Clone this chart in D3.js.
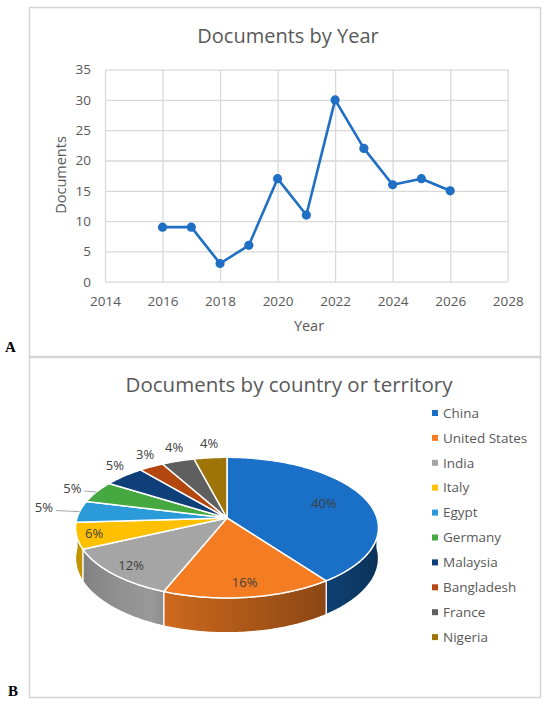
<!DOCTYPE html>
<html lang="en">
<head>
<meta charset="UTF-8">
<title>Documents</title>
<style>
  body { margin: 0; background: #fff; }
  svg { display: block; font-family: "Open Sans", sans-serif; }
</style>
</head>
<body>
<div id="chart"></div>
<script src="https://d3js.org/d3.v7.min.js"></script>
<script>
// data
var years = [2016, 2017, 2018, 2019, 2020, 2021, 2022, 2023, 2024, 2025, 2026];
var docs = [9, 9, 3, 6, 17, 11, 30, 22, 16, 17, 15];
var xTicks = [2014, 2016, 2018, 2020, 2022, 2024, 2026, 2028];
var yTicks = [0, 5, 10, 15, 20, 25, 30, 35];
var countries = ["China", "United States", "India", "Italy", "Egypt", "Germany", "Malaysia", "Bangladesh", "France", "Nigeria"];
var shares = [40, 16, 12, 6, 5, 5, 5, 3, 4, 4];

var colors = ["#1a6fc6", "#f47d23", "#a5a5a5", "#ffc000", "#2b9ad8", "#46a840", "#0f3f78", "#b4470f", "#5f5f5f", "#9e7408"];
var textColor = "#595959";
var gridColor = "#d9d9d9";

var svg = d3.select("#chart").append("svg")
  .attr("width", 550)
  .attr("height", 706);

// panel frames
svg.append("rect").attr("x", 29.5).attr("y", 7.5).attr("width", 511).attr("height", 349)
  .attr("fill", "none").attr("stroke", "#d4d4d4").attr("stroke-width", 1.5);
svg.append("rect").attr("x", 29.5).attr("y", 357.5).attr("width", 511).attr("height", 340)
  .attr("fill", "none").attr("stroke", "#d4d4d4").attr("stroke-width", 1.5);

svg.append("text").attr("x", 5).attr("y", 352).text("A")
  .style("font-family", "'Liberation Serif', serif").style("font-weight", "bold").style("font-size", "15px");
svg.append("text").attr("x", 8).attr("y", 696).text("B")
  .style("font-family", "'Liberation Serif', serif").style("font-weight", "bold").style("font-size", "15px");

// ---------- line chart ----------
var x = d3.scaleLinear().domain([2014, 2028]).range([105, 507.7]);
var y = d3.scaleLinear().domain([0, 35]).range([281.7, 69.6]);

svg.append("text")
  .attr("x", 288).attr("y", 43)
  .attr("text-anchor", "middle")
  .style("font-size", "20px").style("fill", textColor)
  .text("Documents by Year");

var gx = svg.append("g")
  .attr("transform", "translate(0," + y(0) + ")")
  .call(d3.axisBottom(x).tickValues(xTicks).tickFormat(d3.format("d"))
    .tickSize(-(y(0) - y(35))).tickPadding(15));
var gy = svg.append("g")
  .attr("transform", "translate(" + x(2014) + ",0)")
  .call(d3.axisLeft(y).tickValues(yTicks).tickSize(-(x(2028) - x(2014))).tickPadding(14));

[gx, gy].forEach(function (g) {
  g.select(".domain").remove();
  g.selectAll("line").attr("stroke", gridColor).attr("stroke-width", 1.3);
  g.selectAll("text").style("font-size", "13.5px").style("fill", textColor)
    .style("font-family", "'Open Sans', sans-serif");
});

svg.append("text")
  .attr("x", 309).attr("y", 331)
  .attr("text-anchor", "middle")
  .style("font-size", "14.5px").style("fill", textColor)
  .text("Year");

svg.append("text")
  .attr("transform", "translate(66,175) rotate(-90)")
  .attr("text-anchor", "middle")
  .style("font-size", "14.5px").style("fill", textColor)
  .text("Documents");

var lineGen = d3.line()
  .x(function (d, i) { return x(years[i]); })
  .y(function (d) { return y(d); });

svg.append("path")
  .datum(docs)
  .attr("d", lineGen)
  .attr("fill", "none")
  .attr("stroke", "#1f6fc4")
  .attr("stroke-width", 2.6)
  .attr("stroke-linejoin", "round");

svg.selectAll(".dot")
  .data(docs)
  .enter()
  .append("circle")
  .attr("cx", function (d, i) { return x(years[i]); })
  .attr("cy", function (d) { return y(d); })
  .attr("r", 4.6)
  .attr("fill", "#1f6fc4");

// ---------- 3D pie ----------
svg.append("text")
  .attr("x", 289).attr("y", 392)
  .attr("text-anchor", "middle")
  .style("font-size", "20.5px").style("fill", textColor)
  .text("Documents by country or territory");

var P = { cx: 227, cy: 518, rx: 150, ry: 69, h: 30, p: 0.137 };

// angle t clockwise from top, r radius fraction, z 0 = top face, 1 = bottom
function proj(t, r, z) {
  var X = r * Math.sin(t), Y = -r * Math.cos(t);
  var w = 1 / (1 - P.p * Y);
  return [P.cx + P.rx * X * w, P.cy + (P.ry * Y + P.h * z) * w];
}

function arcPts(a0, a1, r, z) {
  var n = Math.max(2, Math.ceil((a1 - a0) / (Math.PI / 180)));
  var pts = [];
  for (var i = 0; i <= n; i++) pts.push(proj(a0 + (a1 - a0) * i / n, r, z));
  return pts;
}

// wall shading, brightest around the front-left
function shade(t) {
  var deg = t * 180 / Math.PI;
  return deg <= 205 ? 0.4 + (205 - deg) / 115 * 2.2 : 0.2 + (deg - 205) / 65 * 0.8;
}

var arcs = d3.pie().sort(null).value(function (d) { return d; })(shares);
var defs = svg.append("defs");
var line = d3.line();

// side walls
arcs.forEach(function (a, i) {
  var a0 = Math.max(a.startAngle, Math.PI / 2), a1 = Math.min(a.endAngle, 3 * Math.PI / 2);
  if (a1 <= a0) return;
  var top = arcPts(a0, a1, 1, 0), bot = arcPts(a0, a1, 1, 1).reverse();
  var xs = top.map(function (p) { return p[0]; });
  var xmin = d3.min(xs), xmax = d3.max(xs);
  var grad = defs.append("linearGradient").attr("id", "wall" + i)
    .attr("gradientUnits", "userSpaceOnUse")
    .attr("x1", xmin).attr("x2", xmax).attr("y1", 0).attr("y2", 0);
  var stops = [];
  for (var k = 0; k <= 10; k++) {
    var t = a0 + (a1 - a0) * k / 10;
    var px = proj(t, 1, 0)[0];
    stops.push({ o: xmax > xmin ? (px - xmin) / (xmax - xmin) : 0, c: d3.color(colors[i]).darker(shade(t)) });
  }
  stops.sort(function (s, q) { return s.o - q.o; });
  stops.forEach(function (s) {
    grad.append("stop").attr("offset", s.o).attr("stop-color", s.c.formatHex());
  });
  svg.append("path")
    .attr("d", line(top.concat(bot)) + "Z")
    .attr("fill", "url(#wall" + i + ")")
    .attr("stroke", "#fff").attr("stroke-width", 1.2).attr("stroke-linejoin", "round");
});

// top faces
arcs.forEach(function (a, i) {
  var pts = [proj(0, 0, 0)].concat(arcPts(a.startAngle, a.endAngle, 1, 0));
  svg.append("path")
    .attr("d", line(pts) + "Z")
    .attr("fill", colors[i])
    .attr("stroke", "#fff").attr("stroke-width", 1.5).attr("stroke-linejoin", "round");
});

// data labels
arcs.forEach(function (a, i) {
  var mid = (a.startAngle + a.endAngle) / 2;
  var deg = mid * 180 / Math.PI;
  var lx, ly;
  if (shares[i] > 5) {
    var pt = proj(mid, 0.92 - 0.55 * shares[i] / 100, 0);
    lx = pt[0]; ly = pt[1];
  } else {
    var e = proj(mid, 1, 0);
    if (deg < 300) {
      var d = 36 - (deg - 275) * 0.65;
      lx = e[0] - d; ly = e[1] - 4;
      svg.append("path")
        .attr("d", line([[lx + 12, ly + 3], [e[0], e[1]]]))
        .attr("stroke", "#a6a6a6").attr("stroke-width", 1).attr("fill", "none");
    } else {
      var dx = e[0] - P.cx, dy = 3 * (e[1] - P.cy), len = Math.sqrt(dx * dx + dy * dy);
      lx = e[0] + dx / len * 14; ly = e[1] + dy / len * 14;
    }
  }
  svg.append("text")
    .attr("x", lx).attr("y", ly).attr("dy", "0.35em")
    .attr("text-anchor", "middle")
    .style("font-size", "13px").style("fill", "#404040")
    .text(shares[i] + "%");
});

// legend
var legend = svg.selectAll(".legend")
  .data(countries)
  .enter()
  .append("g")
  .attr("transform", function (d, i) { return "translate(432," + (413 + i * 24.9) + ")"; });
legend.append("rect")
  .attr("x", 0).attr("y", -3).attr("width", 6).attr("height", 6)
  .attr("fill", function (d, i) { return colors[i]; });
legend.append("text")
  .attr("x", 11).attr("dy", "0.35em")
  .style("font-size", "13.5px").style("fill", textColor)
  .text(function (d) { return d; });
</script>
</body>
</html>
